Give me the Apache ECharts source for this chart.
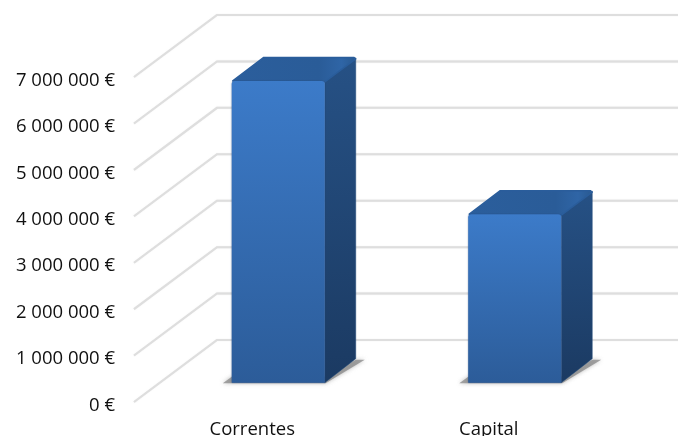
<!DOCTYPE html>
<html>
<head>
<meta charset="utf-8">
<style>html,body{margin:0;padding:0;background:#fff}#c{width:678px;height:436px}</style>
<script src="https://cdn.jsdelivr.net/npm/echarts@6/dist/echarts.min.js"></script>
</head>
<body>
<div id="c"></div>
<script>
var categories = ['Correntes', 'Capital'];
var values = [6500000, 3630000];
var tickValues = [0, 1000000, 2000000, 3000000, 4000000, 5000000, 6000000, 7000000];
var tickLabels = ['0 €', '1 000 000 €', '2 000 000 €', '3 000 000 €', '4 000 000 €', '5 000 000 €', '6 000 000 €', '7 000 000 €'];

var DEPTH_X = 83, DEPTH_Y = -62;
var BAR_OFF_X = 26, BAR_OFF_Y = -19.3, BAR_DX = 31, BAR_DY = -24;
var BAR_RATIO = 93 / 236.5;

function lin(c0, c1) {
  return new echarts.graphic.LinearGradient(0, 0, 0, 1, [{offset: 0, color: c0}, {offset: 1, color: c1}]);
}

function renderWall(params, api) {
  var cs = params.coordSys;
  var p = api.coord([0, api.value(0)]);
  var x0 = cs.x, y0 = p[1];
  return {
    type: 'polyline',
    shape: {points: [[x0, y0], [x0 + DEPTH_X, y0 + DEPTH_Y], [x0 + cs.width + DEPTH_X, y0 + DEPTH_Y]]},
    style: {stroke: '#dedede', lineWidth: 2, fill: null, shadowBlur: 1, shadowColor: 'rgba(210,210,210,0.6)'},
    silent: true
  };
}

function renderBar(params, api) {
  var idx = api.value(0);
  var top = api.coord([idx, api.value(1)]);
  var base = api.coord([idx, 0]);
  var w = api.size([1, 0])[0] * BAR_RATIO;
  var l = top[0] - w / 2 + BAR_OFF_X, r = l + w;
  var t = top[1] + BAR_OFF_Y, b = base[1] + BAR_OFF_Y;
  var dx = BAR_DX, dy = BAR_DY;
  var children = [
    // floor shadow
    {type: 'polygon', shape: {points: [[l - 9, b + 0.5], [l, b - 6], [r, b - 6], [r + dx, b + dy + 1], [r + dx + 9, b + dy + 1], [r + 1, b + 0.5]]},
      style: {fill: 'rgba(130,130,130,0.7)', shadowBlur: 4, shadowColor: 'rgba(150,150,150,0.9)'}},
    // right side
    {type: 'polygon', shape: {points: [[r, t], [r + dx, t + dy + 1], [r + dx, b + dy], [r, b]]},
      style: {fill: lin('#265185', '#1b3a62'), lineJoin: 'round', stroke: '#214a7a', lineWidth: 0.5}},
    // top
    {type: 'polygon', shape: {points: [[l + 1, t], [l + dx + 1, t + dy + 0.5], [r + dx - 2, t + dy + 0.5], [r + dx, t + dy + 2], [r, t + 1]]},
      style: {fill: new echarts.graphic.LinearGradient(0, 0, 1, 0, [{offset: 0, color: '#2b5e9c'}, {offset: 0.7, color: '#2a5c98'}, {offset: 0.88, color: '#2f65a6'}, {offset: 1, color: '#29598f'}]), lineJoin: 'round', stroke: '#2a5d9b', lineWidth: 1.5}},
    // front
    {type: 'rect', shape: {x: l, y: t, width: w, height: b - t, r: [3, 3, 0, 0]},
      style: {fill: lin('#3c7bc9', '#2c5c99'), shadowBlur: 1.5, shadowColor: 'rgba(30,60,110,0.7)'}}
  ];
  return {type: 'group', children: children};
}

var chart = echarts.init(document.getElementById('c'), null, {renderer: 'canvas'});
chart.setOption({
  animation: false,
  backgroundColor: '#ffffff',
  grid: {left: 134, top: 77, width: 473, height: 325, containLabel: false, outerBoundsMode: 'none'},
  xAxis: {
    type: 'category', data: categories,
    axisLine: {show: false}, axisTick: {show: false}, splitLine: {show: false},
    axisLabel: {margin: 18, fontFamily: 'Open Sans', fontSize: 18.5, color: '#111', interval: 0}
  },
  yAxis: {
    type: 'value', min: 0, max: 7000000, interval: 1000000,
    axisLine: {show: false}, axisTick: {show: false}, splitLine: {show: false},
    axisLabel: {margin: 19,
      rich: {t: {fontFamily: 'Open Sans', fontSize: 18.5, color: '#111', padding: [7, 0, 0, 0]}},
      formatter: function (v) { return '{t|' + tickLabels[tickValues.indexOf(v)] + '}'; }}
  },
  series: [
    {type: 'custom', name: 'walls', coordinateSystem: 'cartesian2d', clip: false, z: 1,
      renderItem: renderWall, data: tickValues.map(function (v) { return [v]; }),
      encode: {y: 0}, silent: true},
    {type: 'custom', name: 'Despesas', coordinateSystem: 'cartesian2d', clip: false, z: 2,
      renderItem: renderBar, data: values.map(function (v, i) { return [i, v]; }),
      encode: {x: 0, y: 1}}
  ]
});
</script>
</body>
</html>
